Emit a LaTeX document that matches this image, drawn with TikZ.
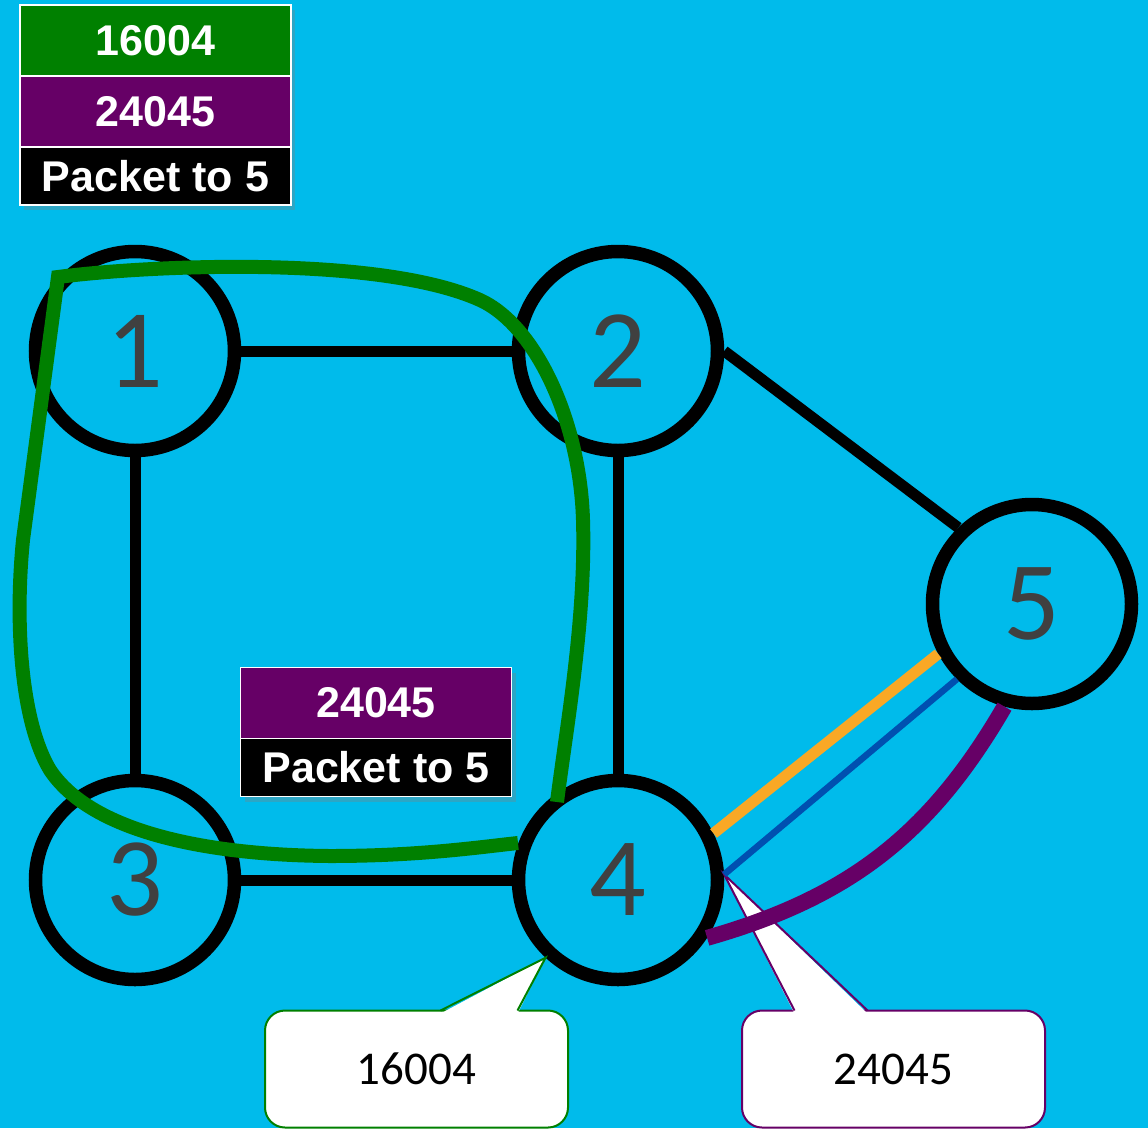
\documentclass[tikz,border=0pt]{standalone}
\usepackage{fontspec}
\setmainfont{Carlito}
\newfontfamily\pktfont{Liberation Sans}
\usepackage{tikz}
\usetikzlibrary{positioning, calc, shadows}
\definecolor{sky}{RGB}{0,187,235}
\definecolor{pktgreen}{RGB}{0,128,0}
\definecolor{pktpurple}{RGB}{102,0,102}
\definecolor{linkorange}{RGB}{249,168,37}
\definecolor{linkblue}{RGB}{0,80,176}
\definecolor{digitgray}{RGB}{64,64,64}
\tikzset{
  router/.style={
    circle, draw=black, line width=13.5pt, minimum size=199pt,
    inner sep=0pt, text=digitgray, font=\fontsize{112}{112}\selectfont
  },
  wire/.style={draw=black, line width=11pt},
  cell/.style={
    draw=white, line width=1.5pt, text=white, minimum width=271pt,
    inner sep=0pt, outer sep=0pt,
    font=\pktfont\bfseries\fontsize{43}{43}\selectfont,
    drop shadow={opacity=0.35, shadow xshift=4pt, shadow yshift=-5pt}
  },
  label cell/.style={cell, minimum height=71pt},
  data cell/.style={cell, fill=black, minimum height=58pt},
  tip box/.style={
    rectangle, rounded corners=20pt, fill=white, line width=2pt,
    minimum width=303pt, minimum height=117pt, outer sep=0pt,
    font=\fontsize{47}{47}\selectfont
  },
}

\begin{document}
\begin{tikzpicture}[x=1pt, y=-1pt]
  \useasboundingbox (0,0) rectangle (1148,1128);
  \fill[sky] (0,0) rectangle (1148,1128);

  % routers
  \node[router] (n1) at (135,351) {1};
  \node[router] (n2) at (618,351) {2};
  \node[router] (n3) at (135,880) {3};
  \node[router] (n4) at (618,880) {4};
  \node[router] (n5) at (1032,604) {5};

  \draw[wire] (n1) -- (n2);
  \draw[wire] (n1) -- (n3);
  \draw[wire] (n2) -- (n4);
  \draw[wire] (n3) -- (n4);
  \draw[wire] (n2.0) -- (n5.134);

  % labels handed out by router 4
  \node[tip box, draw=pktgreen] (c1) at (416.5,1069) {16004};
  \fill[white] ([xshift=24pt,yshift=-3pt]c1.north) -- (n4.227) -- ([xshift=101pt,yshift=-3pt]c1.north) -- cycle;
  \draw[pktgreen, line width=2pt] ([xshift=24pt]c1.north) -- (n4.227) -- ([xshift=101pt]c1.north);

  \node[tip box, draw=pktpurple] (c2) at (893.5,1069) {24045};
  \fill[white] ([xshift=-99pt,yshift=-3pt]c2.north) -- (n4.3) -- ([xshift=-26pt,yshift=-3pt]c2.north) -- cycle;
  \draw[pktpurple, line width=2pt] ([xshift=-99pt]c2.north) -- (n4.3) -- ([xshift=-26pt]c2.north);

  % tunnels between 4 and 5
  \draw[linkorange, line width=11pt] (n4.26) -- (n5.208);
  \draw[linkblue, line width=6.5pt] (n4.3) -- (n5.225);
  \draw[pktpurple, line width=16pt] (n4.327) to[bend right=22] (n5.255);

  % outer tunnel through 1 and 2
  \draw[pktgreen, line width=14pt] (557,802) .. controls (566,730) and (586,620) .. (583,520)
    .. controls (580,420) and (535,325) .. (480,300)
    .. controls (380,255) and (150,265) .. (58,277) -- (23,540)
    .. controls (15,620) and (20,720) .. (50,770)
    .. controls (90,830) and (200,855) .. (330,856)
    .. controls (420,856) and (480,847) .. (518,843);

  % label stacks
  \node[label cell, fill=pktgreen] (s1) at (155.5,40.5) {16004};
  \node[label cell, fill=pktpurple, below=0pt of s1] (s2) {24045};
  \node[data cell, below=0pt of s2] (s3) {Packet to 5};

  \node[label cell, fill=pktpurple] (t1) at (376,703) {24045};
  \node[data cell, below=0pt of t1] (t2) {Packet to 5};
\end{tikzpicture}
\end{document}
